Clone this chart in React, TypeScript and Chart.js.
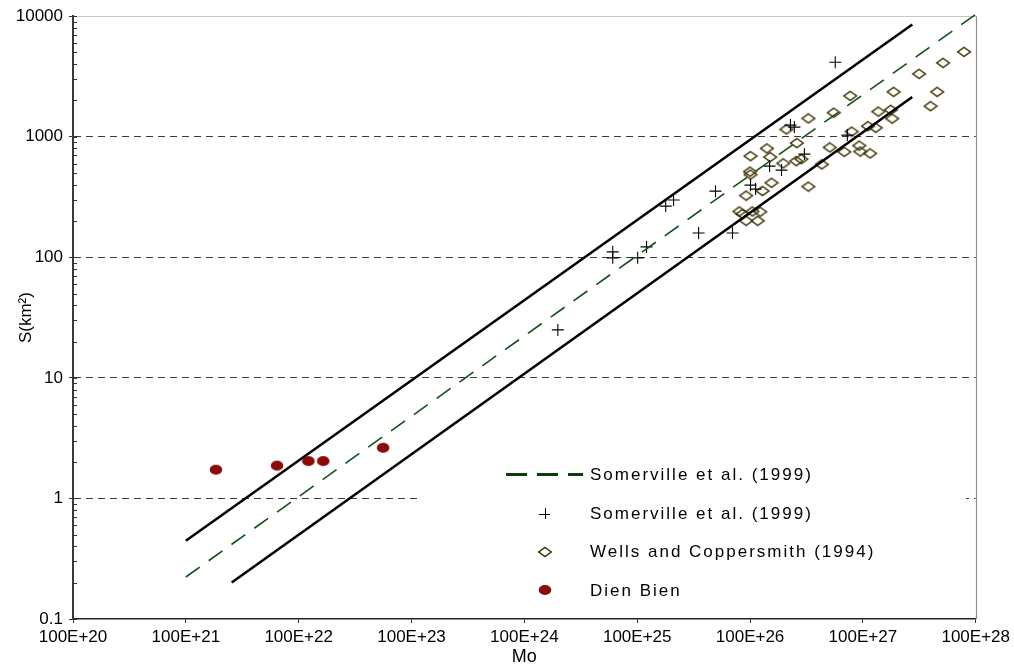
import React, { useEffect, useRef } from 'react';
import { Chart, registerables } from 'chart.js';

Chart.register(...registerables);

const FONT = "'Liberation Sans', Arial, Helvetica, sans-serif";

// Axis ticks
const X_TICKS = [1e20, 1e21, 1e22, 1e23, 1e24, 1e25, 1e26, 1e27, 1e28];
const X_TICK_LABELS = ['100E+20', '100E+21', '100E+22', '100E+23', '100E+24', '100E+25', '100E+26', '100E+27', '100E+28'];
const Y_TICKS = [0.1, 1, 10, 100, 1000, 10000];
const Y_TICK_LABELS = ['0.1', '1', '10', '100', '1000', '10000'];

// Somerville et al. (1999) relation (dashed) and the factor-of-2 bounds (solid)
const fitMo = [1e21, 1e28];
const fitS = [0.223, 10350];
const upperMo = [1e21, 2.74e27];
const upperS = [0.446, 8530];
const lowerMo = [2.55e21, 2.74e27];
const lowerS = [0.201, 2135];

// Somerville et al. (1999) data (+)
const somervilleMo = [1.98e24, 6.07e24, 6.07e24, 1.01e25, 1.21e25, 1.79e25, 2.1e25, 3.5e25, 6.99e25, 4.94e25, 1.01e26, 1.12e26, 1.49e26, 1.9e26, 2.28e26, 2.47e26, 3.03e26, 7.28e26, 5.69e26];
const somervilleS = [25, 111, 99, 99, 122, 266, 299, 159, 159, 354, 397, 368, 571, 529, 1249, 1203, 718, 1032, 4155];

// Wells and Coppersmith (1994) data (diamonds)
const wellsMo = [8.05e25, 8.57e25, 1.05e26, 1.23e26, 9.24e25, 1.17e26, 9.24e25, 1.29e26, 1.55e26, 1.0e26, 1.01e26, 1.01e26, 1.51e26, 1.41e26, 1.97e26, 2.57e26, 2.85e26, 2.1e26, 2.6e26, 3.29e26, 3.29e26, 4.32e26, 5.09e26, 5.52e26, 6.84e26, 7.73e26, 7.96e26, 9.29e26, 9.48e26, 1.16e27, 1.11e27, 1.3e27, 1.37e27, 1.77e27, 1.82e27, 1.87e27, 3.15e27, 5.14e27, 7.88e27, 4.56e27, 3.98e27];
const wellsS = [240, 229, 240, 239, 201, 201, 325, 355, 415, 514, 486, 691, 678, 801, 602, 628, 653, 1151, 886, 1420, 386, 590, 816, 1585, 750, 2185, 1104, 845, 754, 728, 1225, 1187, 1617, 1673, 1415, 2358, 3325, 4102, 5060, 2358, 1795];

// Dien Bien (filled ellipses)
const dienBienMo = [1.85e21, 6.43e21, 1.22e22, 1.65e22, 5.6e22];
const dienBienS = [1.73, 1.87, 2.04, 2.04, 2.63];

const LEGEND_LABELS = ['Somerville et al. (1999)', 'Somerville et al. (1999)', 'Wells and Coppersmith (1994)', 'Dien Bien'];

const GREEN = '#134f16';
const OLIVE = '#3d3400';
const DARKRED = '#8b0a0a';

const pts = (xs: number[], ys: number[]) => xs.map((x, i) => ({ x, y: ys[i] }));

function makeDiamond(): HTMLCanvasElement {
  const c = document.createElement('canvas');
  c.width = 16;
  c.height = 12;
  const g = c.getContext('2d')!;
  g.strokeStyle = OLIVE;
  g.lineWidth = 1.5;
  g.lineJoin = 'miter';
  g.beginPath();
  g.moveTo(8, 1.5);
  g.lineTo(14.3, 6);
  g.lineTo(8, 10.5);
  g.lineTo(1.7, 6);
  g.closePath();
  g.stroke();
  return c;
}

function makeEllipse(): HTMLCanvasElement {
  const c = document.createElement('canvas');
  c.width = 14;
  c.height = 12;
  const g = c.getContext('2d')!;
  g.fillStyle = DARKRED;
  g.beginPath();
  g.ellipse(7, 6, 6.3, 5, 0, 0, Math.PI * 2);
  g.fill();
  return c;
}

export default function App() {
  const ref = useRef<HTMLCanvasElement>(null);

  useEffect(() => {
    const canvas = ref.current;
    if (!canvas) return;
    const diamond = makeDiamond();
    const ellipse = makeEllipse();

    const decor = {
      id: 'decor',
      beforeDatasetsDraw(chart: any) {
        const { ctx, chartArea: a, scales } = chart;
        const y = scales.y;
        ctx.save();
        // light top border
        ctx.strokeStyle = '#c8c8c8';
        ctx.lineWidth = 1;
        ctx.beginPath();
        ctx.moveTo(a.left, Math.round(a.top) + 0.5);
        ctx.lineTo(a.right, Math.round(a.top) + 0.5);
        ctx.stroke();
        // right border
        ctx.strokeStyle = '#8f8f8f';
        ctx.lineWidth = 1.2;
        ctx.beginPath();
        ctx.moveTo(Math.round(a.right) + 0.5, a.top);
        ctx.lineTo(Math.round(a.right) + 0.5, a.bottom);
        ctx.stroke();
        // inner tick marks on y axis (major + minor)
        ctx.strokeStyle = '#333';
        ctx.lineWidth = 1;
        ctx.beginPath();
        for (let d = 0; d < Y_TICKS.length; d++) {
          const base = Y_TICKS[d];
          const py = Math.round(y.getPixelForValue(base)) + 0.5;
          ctx.moveTo(a.left, py);
          ctx.lineTo(a.left + 4, py);
          if (d < Y_TICKS.length - 1) {
            for (let k = 2; k <= 9; k++) {
              const pm = Math.round(y.getPixelForValue(base * k)) + 0.5;
              ctx.moveTo(a.left, pm);
              ctx.lineTo(a.left + 4, pm);
            }
          }
        }
        ctx.stroke();
        ctx.restore();
      },
      afterDraw(chart: any) {
        const { ctx } = chart;
        ctx.save();
        ctx.fillStyle = '#ffffff';
        ctx.fillRect(420, 455, 546, 158);
        const rows = [474.5, 513.5, 551.5, 590];
        const mx = 544.5;
        // dashed line entry
        ctx.strokeStyle = '#0a3d0c';
        ctx.lineWidth = 3;
        ctx.setLineDash([21, 10]);
        ctx.beginPath();
        ctx.moveTo(506, rows[0]);
        ctx.lineTo(583, rows[0]);
        ctx.stroke();
        ctx.setLineDash([]);
        // plus
        ctx.strokeStyle = '#000';
        ctx.lineWidth = 1;
        ctx.beginPath();
        ctx.moveTo(mx - 5.5, Math.round(rows[1]) + 0.5);
        ctx.lineTo(mx + 5.5, Math.round(rows[1]) + 0.5);
        ctx.moveTo(Math.round(mx) + 0.5, rows[1] - 5.5);
        ctx.lineTo(Math.round(mx) + 0.5, rows[1] + 5.5);
        ctx.stroke();
        // diamond
        ctx.drawImage(diamond, Math.round(mx - diamond.width / 2), Math.round(rows[2] - diamond.height / 2));
        // ellipse
        ctx.drawImage(ellipse, Math.round(mx - ellipse.width / 2), Math.round(rows[3] - ellipse.height / 2));
        // labels
        ctx.fillStyle = '#000';
        ctx.font = `17px ${FONT}`;
        ctx.textAlign = 'left';
        ctx.textBaseline = 'middle';
        try { (ctx as any).letterSpacing = '2px'; } catch (e) { /* ignore */ }
        LEGEND_LABELS.forEach((t, i) => ctx.fillText(t, 590, rows[i] + 1));
        ctx.restore();
      },
    };

    const chart = new Chart(canvas, {
      type: 'scatter',
      data: {
        datasets: [
          {
            label: 'upper',
            data: pts(upperMo, upperS),
            showLine: true,
            borderColor: '#000',
            borderWidth: 2.6,
            pointRadius: 0,
            fill: false,
          },
          {
            label: 'lower',
            data: pts(lowerMo, lowerS),
            showLine: true,
            borderColor: '#000',
            borderWidth: 2.6,
            pointRadius: 0,
            fill: false,
          },
          {
            label: LEGEND_LABELS[0],
            data: pts(fitMo, fitS),
            showLine: true,
            borderColor: GREEN,
            borderWidth: 1.6,
            borderDash: [17, 11],
            pointRadius: 0,
            fill: false,
            clip: 6,
          },
          {
            label: LEGEND_LABELS[1],
            data: pts(somervilleMo, somervilleS),
            showLine: false,
            pointStyle: 'cross',
            pointRadius: 6,
            borderColor: '#000',
            borderWidth: 1.1,
          },
          {
            label: LEGEND_LABELS[2],
            data: pts(wellsMo, wellsS),
            showLine: false,
            pointStyle: diamond as any,
            pointRadius: 6,
          },
          {
            label: LEGEND_LABELS[3],
            data: pts(dienBienMo, dienBienS),
            showLine: false,
            pointStyle: ellipse as any,
            pointRadius: 6,
          },
        ] as any,
      },
      options: {
        animation: false,
        responsive: false,
        events: [],
        layout: { padding: { left: 0, top: 16, right: 36, bottom: 0 } },
        plugins: { legend: { display: false }, tooltip: { enabled: false } },
        scales: {
          x: {
            type: 'logarithmic',
            position: 'bottom',
            min: 1e20,
            max: 1e28,
            afterBuildTicks: (s: any) => {
              s.ticks = X_TICKS.map((v) => ({ value: v }));
            },
            afterFit: (s: any) => {
              s.height = 49;
            },
            ticks: {
              autoSkip: false,
              maxRotation: 0,
              minRotation: 0,
              padding: 4,
              color: '#000',
              font: { family: FONT, size: 17 },
              callback: (_v: any, i: number) => X_TICK_LABELS[i],
            },
            grid: {
              drawOnChartArea: false,
              drawTicks: true,
              tickLength: 4,
              tickColor: '#333',
              tickWidth: 1,
            },
            border: { display: true, color: '#222', width: 1.5 },
            title: {
              display: true,
              text: 'Mo',
              color: '#000',
              font: { family: FONT, size: 18 },
              padding: { top: 0, bottom: 0 },
            },
          },
          y: {
            type: 'logarithmic',
            min: 0.1,
            max: 10000,
            afterBuildTicks: (s: any) => {
              s.ticks = Y_TICKS.map((v) => ({ value: v }));
            },
            afterFit: (s: any) => {
              s.width = 73;
            },
            ticks: {
              autoSkip: false,
              padding: 6,
              color: '#000',
              font: { family: FONT, size: 17 },
              callback: (_v: any, i: number) => Y_TICK_LABELS[i],
            },
            grid: {
              color: (c: any) => {
                const v = c.tick ? c.tick.value : 0;
                if (v === 0.1) return 'rgba(0,0,0,0)';
                if (v === 10000) return '#8a8a8a';
                return '#3a3a3a';
              },
              lineWidth: 1,
              drawTicks: true,
              tickLength: 4,
              tickColor: '#333',
              tickWidth: 1,
              tickBorderDash: [],
            },
            border: { display: true, color: '#3a3a3a', width: 2, dash: [7, 5] },
            title: {
              display: true,
              text: 'S(km²)',
              color: '#000',
              font: { family: FONT, size: 17 },
              padding: { top: 16, bottom: 0 },
            },
          },
        },
      } as any,
      plugins: [decor],
    });

    return () => chart.destroy();
  }, []);

  return (
    <div style={{ position: 'absolute', left: 0, top: 0, width: 1014, height: 668, background: '#fff' }}>
      <canvas ref={ref} width={1014} height={668} style={{ display: 'block', width: 1014, height: 668 }} />
    </div>
  );
}
